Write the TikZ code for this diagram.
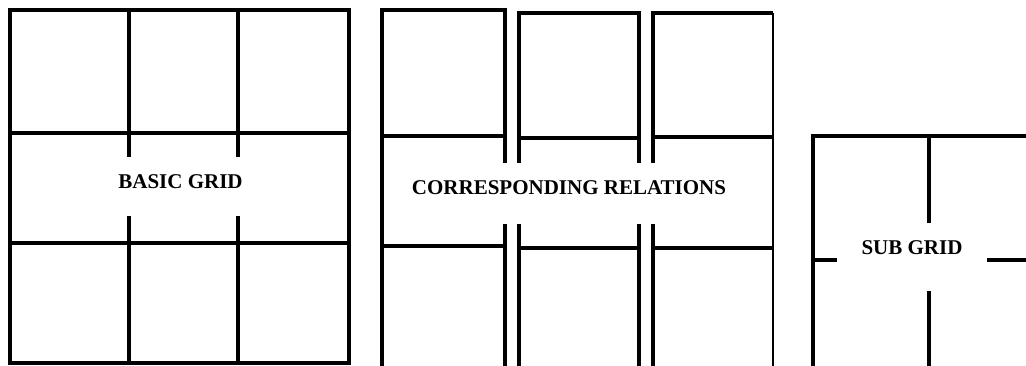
\documentclass[tikz,border=0pt]{standalone}
\usepackage{fontspec}
\setmainfont{Liberation Serif}
\begin{document}
\begin{tikzpicture}[x=1pt,y=-1pt,
  gridline/.style={line width=3.8pt,black,line join=miter},
  label/.style={fill=white,inner sep=0pt,font=\bfseries\fontsize{21}{21}\selectfont,anchor=base}]
\useasboundingbox (0,0) rectangle (1026,365);
% basic grid
\draw[gridline] (10,10) rectangle (349,363);
\draw[gridline] (129,10) -- (129,363) (238,10) -- (238,363);
\draw[gridline] (10,133) -- (349,133) (10,243) -- (349,243);
\node[label,minimum width=120pt,text height=31pt,text depth=28pt] (basic) at (180.5,188) {BASIC GRID};
% corresponding relations
\draw[gridline] (382,366) -- (382,10) -- (505,10) -- (505,366);
\draw[gridline] (382,136) -- (505,136) (382,246) -- (505,246);
\draw[gridline] (519,366) -- (519,13) -- (639,13) -- (639,366);
\draw[gridline] (519,138) -- (639,138) (519,248) -- (639,248);
\draw[gridline] (653,366) -- (653,13) -- (773,13);
\draw[line width=2.5pt] (773,13) -- (773,366);
\draw[gridline] (653,137) -- (773,137) (653,248) -- (773,248);
\node[label,minimum width=360pt,text height=31pt,text depth=30pt] (corr) at (569,194) {CORRESPONDING RELATIONS};
% sub grid
\draw[gridline] (813,366) -- (813,136) -- (1027,136);
\draw[gridline] (929,136) -- (929,366);
\draw[gridline] (813,260) -- (1027,260);
\node[label,minimum width=150pt,text height=31pt,text depth=37pt] (sub) at (912,254) {SUB GRID};
\end{tikzpicture}
\end{document}
